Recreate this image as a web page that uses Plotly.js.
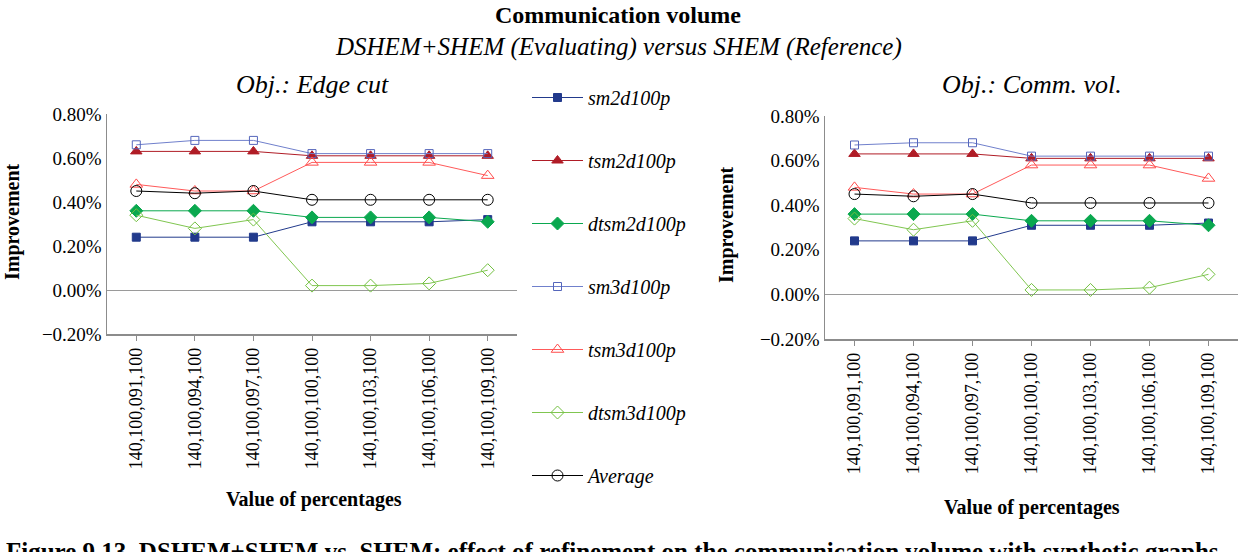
<!DOCTYPE html>
<html>
<head>
<meta charset="utf-8">
<script src="https://cdn.plot.ly/plotly-3.0.1.min.js"></script>
<style>html,body{margin:0;padding:0;background:#fff;}#chart{width:1244px;height:552px;}</style>
</head>
<body>
<div id="chart"></div>
<script>
// Categories (x axis tick labels)
const categories = ['140,100,091,100','140,100,094,100','140,100,097,100','140,100,100,100','140,100,103,100','140,100,106,100','140,100,109,100'];

// Series names
const seriesNames = ['sm2d100p','tsm2d100p','dtsm2d100p','sm3d100p','tsm3d100p','dtsm3d100p','Average'];

// Left chart: Obj.: Edge cut (values in %)
const ecSm2d   = [0.24,0.24,0.24,0.31,0.31,0.31,0.32];
const ecTsm2d  = [0.63,0.63,0.63,0.61,0.61,0.61,0.61];
const ecDtsm2d = [0.36,0.36,0.36,0.33,0.33,0.33,0.31];
const ecSm3d   = [0.66,0.68,0.68,0.62,0.62,0.62,0.62];
const ecTsm3d  = [0.48,0.45,0.45,0.58,0.58,0.58,0.52];
const ecDtsm3d = [0.34,0.28,0.32,0.02,0.02,0.03,0.09];
const ecAvg    = [0.45,0.44,0.45,0.41,0.41,0.41,0.41];

// Right chart: Obj.: Comm. vol. (values in %)
const cvSm2d   = [0.24,0.24,0.24,0.31,0.31,0.31,0.32];
const cvTsm2d  = [0.63,0.63,0.63,0.61,0.61,0.61,0.61];
const cvDtsm2d = [0.36,0.36,0.36,0.33,0.33,0.33,0.31];
const cvSm3d   = [0.67,0.68,0.68,0.62,0.62,0.62,0.62];
const cvTsm3d  = [0.48,0.45,0.45,0.58,0.58,0.58,0.52];
const cvDtsm3d = [0.34,0.29,0.33,0.02,0.02,0.03,0.09];
const cvAvg    = [0.45,0.44,0.45,0.41,0.41,0.41,0.41];

// Y tick values and labels
const yTickVals = [-0.2,0,0.2,0.4,0.6,0.8];
const yTickText = ['\u22120.20%','0.00%','0.20%','0.40%','0.60%','0.80%'];

const styles = [
  {color:'#223a8c', line:'#223a8c', symbol:'square', size:8},
  {color:'#b01c26', line:'#b01c26', symbol:'triangle-up', size:10},
  {color:'#0aa84f', line:'#0aa84f', symbol:'diamond', size:10},
  {color:'#5566bb', line:'#7080cc', symbol:'square-open', size:8},
  {color:'#ff4c4c', line:'#ff5a5a', symbol:'triangle-up-open', size:11},
  {color:'#72c040', line:'#80c650', symbol:'diamond-open', size:10},
  {color:'#000000', line:'#000000', symbol:'circle-open', size:11}
];

const leftSeries = [ecSm2d, ecTsm2d, ecDtsm2d, ecSm3d, ecTsm3d, ecDtsm3d, ecAvg];
const rightSeries = [cvSm2d, cvTsm2d, cvDtsm2d, cvSm3d, cvTsm3d, cvDtsm3d, cvAvg];

const traces = [];
leftSeries.forEach((ys, i) => {
  const s = styles[i];
  traces.push({
    type:'scatter', mode:'lines+markers', x:categories, y:ys, name:seriesNames[i],
    xaxis:'x', yaxis:'y', legendgroup:'g'+i, showlegend:true,
    line:{color:s.line, width:1},
    marker:{symbol:s.symbol, size:s.size, color:s.color, line:{color:s.color, width:1}},
    cliponaxis:false
  });
});
rightSeries.forEach((ys, i) => {
  const s = styles[i];
  traces.push({
    type:'scatter', mode:'lines+markers', x:categories, y:ys, name:seriesNames[i],
    xaxis:'x2', yaxis:'y2', legendgroup:'g'+i, showlegend:false,
    line:{color:s.line, width:1},
    marker:{symbol:s.symbol, size:s.size, color:s.color, line:{color:s.color, width:1}},
    cliponaxis:false
  });
});

const serif = '"Liberation Serif"';
const W = 1244, H = 552;
const px = v => v / W;
const py = v => 1 - v / H;

function yAxisDef(domain, anchor) {
  return {
    domain: domain, anchor: anchor, range:[-0.2,0.8], tickmode:'array',
    tickvals:yTickVals, ticktext:yTickText, showgrid:false,
    zeroline:true, zerolinecolor:'#9a9a9a', zerolinewidth:1,
    showline:true, linecolor:'#8c8c8c', linewidth:1.5, ticks:'',
    tickfont:{family:serif, size:19, color:'#000'}, fixedrange:true
  };
}
function xAxisDef(domain, anchor) {
  return {
    domain: domain, anchor: anchor, type:'category', range:[-0.5,6.5],
    showgrid:false, zeroline:false, showline:true, linecolor:'#8c8c8c', linewidth:1.5,
    ticks:'outside', ticklen:5, tickcolor:'#8c8c8c', tickangle:-90,
    tickfont:{family:serif, size:18, color:'#000'}, fixedrange:true
  };
}

function note(text, x, y, size, extra) {
  return Object.assign({text:text, x:px(x), y:py(y), xref:'paper', yref:'paper',
    xanchor:'center', yanchor:'middle', showarrow:false, font:{family:serif, size:size, color:'#000'}}, extra || {});
}

const layout = {
  width:W, height:H, margin:{l:0,r:0,t:0,b:0},
  paper_bgcolor:'#fff', plot_bgcolor:'#fff',
  font:{family:serif, color:'#000'},
  xaxis: xAxisDef([px(107), px(517)], 'y'),
  yaxis: yAxisDef([py(334), py(114)], 'x'),
  xaxis2: xAxisDef([px(825), px(1238)], 'y2'),
  yaxis2: yAxisDef([py(339), py(116)], 'x2'),
  showlegend:true,
  legend:{x:px(527), y:py(78), xanchor:'left', yanchor:'top', tracegroupgap:34, itemwidth:51,
    font:{family:serif, size:20, style:'italic', color:'#000'}, bgcolor:'rgba(0,0,0,0)'},
  annotations:[
    note('<b>Communication volume</b>', 618, 0, 24, {yanchor:'top'}),
    note('<i>DSHEM+SHEM (Evaluating) versus SHEM (Reference)</i>', 618, 47, 25),
    note('<i>Obj.: Edge cut</i>', 312, 84, 26),
    note('<i>Obj.: Comm. vol.</i>', 1032, 84, 26),
    note('<b>Improvement</b>', 12, 222, 20, {textangle:-90}),
    note('<b>Improvement</b>', 727, 225, 20, {textangle:-90}),
    note('<b>Value of percentages</b>', 314, 499, 20),
    note('<b>Value of percentages</b>', 1032, 507, 20),
    note('<b>Figure 9.13. DSHEM+SHEM vs. SHEM: effect of refinement on the communication volume with synthetic graphs</b>', 4, 536, 25, {xanchor:'left', yanchor:'top'})
  ]
};

Plotly.newPlot('chart', traces, layout, {displayModeBar:false, staticPlot:true});
</script>
</body>
</html>
